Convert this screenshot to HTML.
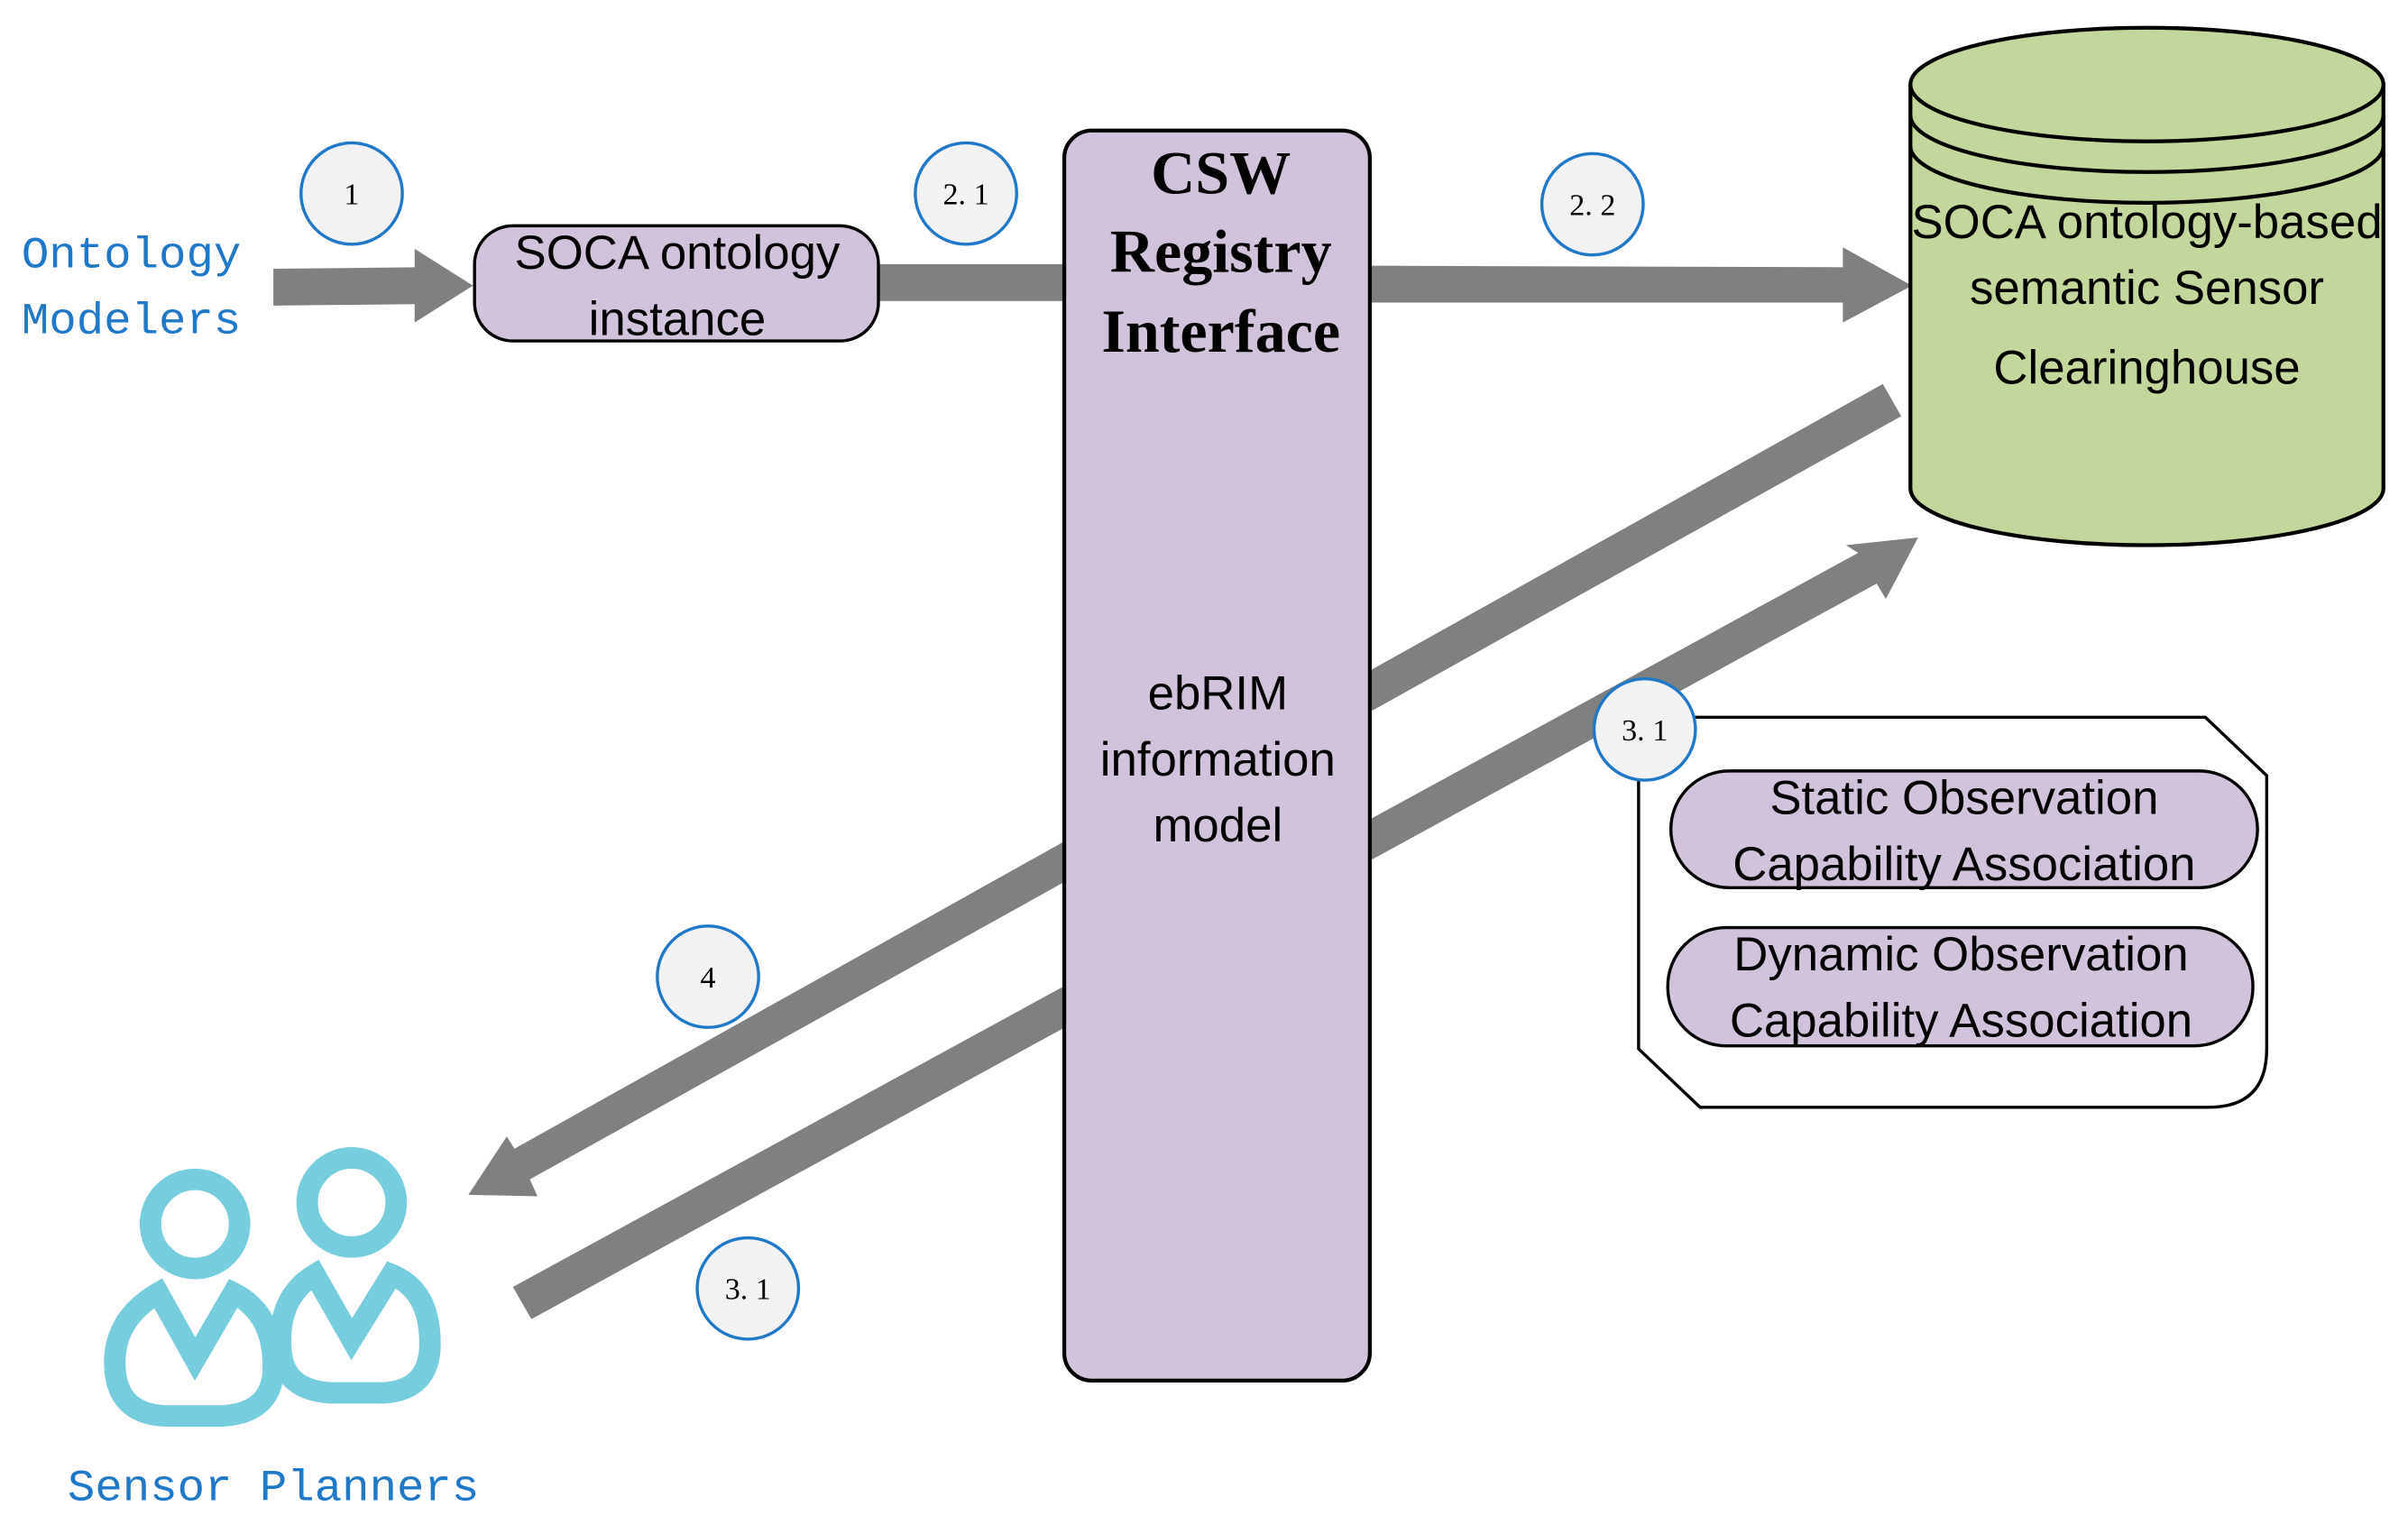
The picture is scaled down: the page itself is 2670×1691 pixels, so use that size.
<!DOCTYPE html>
<html><head><meta charset="utf-8"><style>
html,body{margin:0;padding:0;background:#fff;}
svg{display:block;}
.mono{font-family:"Liberation Mono","Noto Serif CJK SC",monospace;fill:#1f78c8;}
.sans{font-family:"Liberation Sans",sans-serif;fill:#000;}
.ser{font-family:"Liberation Serif",serif;fill:#000;}
</style></head><body>
<svg width="2670" height="1691" viewBox="0 0 1568 993" xmlns="http://www.w3.org/2000/svg">
<rect width="1568" height="993" fill="#fff"/>
<g fill="#808080">
<polygon points="1226,250 1238,271 345,768 350,779 305,778 330,740 335,748"/>
<polygon points="334,838 346,859 1222,380 1228,390 1249,350 1202,355 1210,360"/>
<polygon points="178,175 270,174 270,162 308,186 270,210 270,198 178,199"/>
<rect x="570" y="172" width="126" height="24"/>
<polygon points="890,173 1200,174 1200,161 1245,186 1200,210 1200,197 890,197"/>
</g>
<rect x="309" y="147" width="263" height="75" rx="25" fill="#d0c3db" stroke="#000" stroke-width="2"/>
<text class="sans" x="441" y="175" font-size="31" text-anchor="middle">SOCA ontology</text>
<text class="sans" x="441" y="218" font-size="31" text-anchor="middle">instance</text>
<rect x="693" y="85" width="199" height="814" rx="18" fill="#d0c3db" stroke="#000" stroke-width="2.5"/>
<text class="ser" x="795" y="126" font-size="40" font-weight="bold" text-anchor="middle">CSW</text>
<text class="ser" x="795" y="177" font-size="40" font-weight="bold" text-anchor="middle">Registry</text>
<text class="ser" x="795" y="229" font-size="40" font-weight="bold" text-anchor="middle">Interface</text>
<text class="sans" x="793" y="462" font-size="31" text-anchor="middle">ebRIM</text>
<text class="sans" x="793" y="505" font-size="31" text-anchor="middle">information</text>
<text class="sans" x="793" y="548" font-size="31" text-anchor="middle">model</text>
<path d="M1244,55 L1244,318 A154,37 0 0 0 1552,318 L1552,55" fill="#c3d69b" stroke="#000" stroke-width="2.5"/>
<ellipse cx="1398" cy="55" rx="154" ry="37" fill="#c3d69b" stroke="#000" stroke-width="2.5"/>
<path d="M1244,75 A154,37 0 0 0 1552,75" fill="none" stroke="#000" stroke-width="2.5"/>
<path d="M1244,95 A154,37 0 0 0 1552,95" fill="none" stroke="#000" stroke-width="2.5"/>
<text class="sans" x="1398" y="155" font-size="31" text-anchor="middle">SOCA ontology-based</text>
<text class="sans" x="1398" y="198" font-size="31" text-anchor="middle">semantic Sensor</text>
<text class="sans" x="1398" y="250" font-size="31" text-anchor="middle">Clearinghouse</text>
<path d="M1090,467 L1436,467 L1476,505 L1476,683 Q1476,721 1438,721 L1107,721 L1067,683 L1067,490 Q1067,467 1090,467 Z" fill="#fff" stroke="#000" stroke-width="2"/>
<rect x="1088" y="502" width="382" height="76" rx="38" fill="#d0c3db" stroke="#000" stroke-width="2"/>
<text class="sans" x="1279" y="530" font-size="31" text-anchor="middle">Static Observation</text>
<text class="sans" x="1279" y="573" font-size="31" text-anchor="middle">Capability Association</text>
<rect x="1086" y="604" width="381" height="77" rx="38" fill="#d0c3db" stroke="#000" stroke-width="2"/>
<text class="sans" x="1277" y="632" font-size="31" text-anchor="middle">Dynamic Observation</text>
<text class="sans" x="1277" y="675" font-size="31" text-anchor="middle">Capability Association</text>
<g stroke="#1f78c8" stroke-width="2" fill="#f2f2f2">
<circle cx="229" cy="126" r="33"/><circle cx="629" cy="126" r="33"/>
<circle cx="1037" cy="133" r="33"/><circle cx="1071" cy="475" r="33"/>
<circle cx="461" cy="636" r="33"/><circle cx="487" cy="839" r="33"/>
</g>
<g class="ser" font-size="20" text-anchor="middle">
<text x="229" y="133">1</text><text x="629" y="133">2. 1</text>
<text x="1037" y="140">2. 2</text><text x="1071" y="482">3. 1</text>
<text x="461" y="643">4</text><text x="487" y="846">3. 1</text>
</g>
<text class="mono" x="14" y="174" font-size="29" textLength="143" lengthAdjust="spacingAndGlyphs">Ontology</text>
<text class="mono" x="14" y="217" font-size="29" textLength="143" lengthAdjust="spacingAndGlyphs">Modelers</text>
<text class="mono" x="44" y="977" font-size="29" textLength="268" lengthAdjust="spacingAndGlyphs">Sensor Planners</text>
<g fill="none" stroke="#75cddd" stroke-width="14">
<circle cx="229" cy="783" r="29"/>
<path d="M205,830 Q180,845 183,880 Q185,905 215,907 L250,907 Q280,905 280,875 Q280,840 255,830 L229,872 Z"/>
<circle cx="127" cy="797" r="29"/>
<path d="M103,842 Q72,860 75,893 Q78,922 110,922 L145,922 Q178,920 178,890 Q178,855 152,842 L127,885 Z" fill="#fff"/>
</g>
</svg>
</body></html>
